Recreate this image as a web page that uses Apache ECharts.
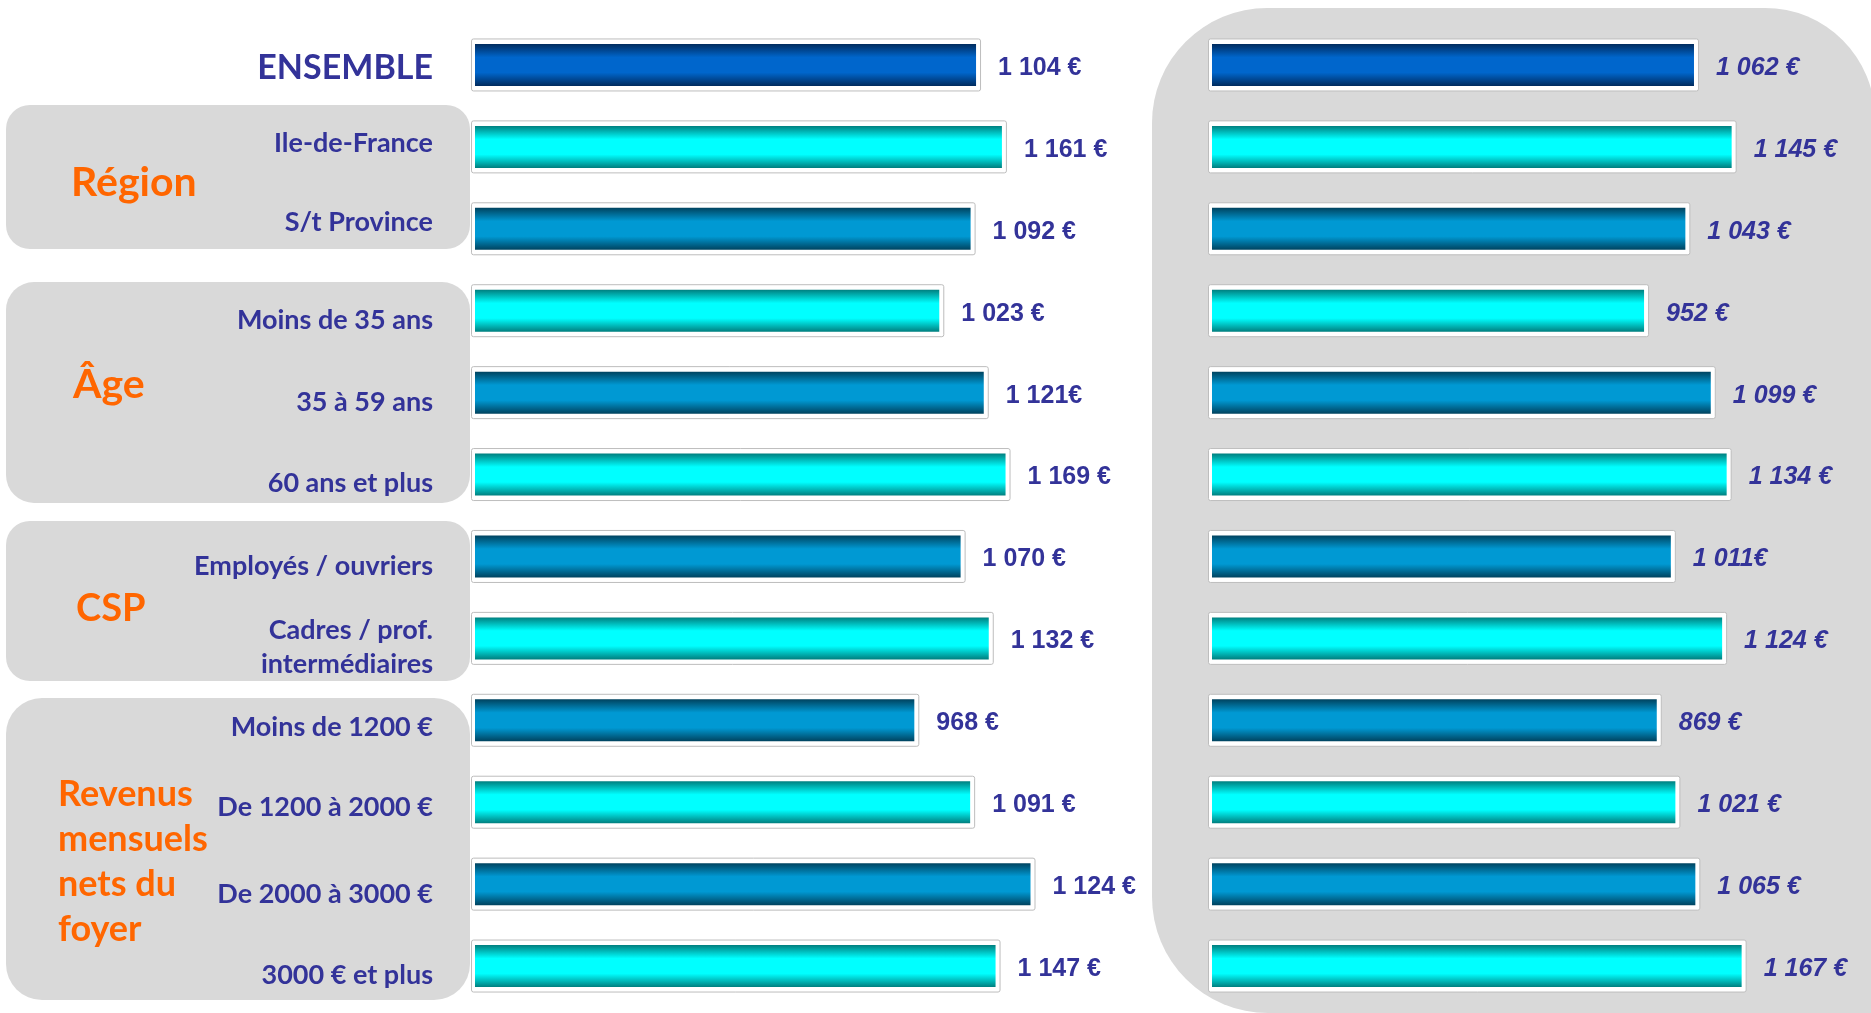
<!DOCTYPE html>
<html>
<head>
<meta charset="utf-8">
<script src="https://cdn.jsdelivr.net/npm/echarts@6/dist/echarts.min.js"></script>
<style>
  html, body { margin: 0; padding: 0; background: #fff; }
  #chart { width: 1871px; height: 1013px; }
</style>
</head>
<body>
<div id="chart"></div>
<script>
// categories (top to bottom)
var categories = ['ENSEMBLE', 'Ile-de-France', 'S/t Province', 'Moins de 35 ans', '35 à 59 ans',
  '60 ans et plus', 'Employés / ouvriers', 'Cadres / prof.\nintermédiaires', 'Moins de 1200 €',
  'De 1200 à 2000 €', 'De 2000 à 3000 €', '3000 € et plus'];

// left block : printed labels and bar lengths as drawn
// (in the picture the "1 124 €" bar is drawn longer than its label)
var leftLabels = ['1 104 €', '1 161 €', '1 092 €', '1 023 €', '1 121€', '1 169 €',
  '1 070 €', '1 132 €', '968 €', '1 091 €', '1 124 €', '1 147 €'];
var leftValues = [1104, 1161, 1092, 1023, 1121, 1169, 1070, 1132, 968, 1091, 1224, 1147];

// right block (the "869 €" bar is drawn longer than its label)
var rightLabels = ['1 062 €', '1 145 €', '1 043 €', '952 €', '1 099 €', '1 134 €',
  '1 011€', '1 124 €', '869 €', '1 021 €', '1 065 €', '1 167 €'];
var rightValues = [1062, 1145, 1043, 952, 1099, 1134, 1011, 1124, 980, 1021, 1065, 1167];

// bar colour kind per row
var barKinds = ['ensemble', 'cyan', 'blue', 'cyan', 'blue', 'cyan', 'blue', 'cyan', 'blue', 'cyan', 'blue', 'cyan'];

var chart = echarts.init(document.getElementById('chart'));

function grad(edge, mid) {
  return new echarts.graphic.LinearGradient(0, 0, 0, 1, [
    { offset: 0, color: edge },
    { offset: 0.32, color: mid },
    { offset: 0.68, color: mid },
    { offset: 1, color: edge }
  ]);
}
var kindColors = {
  ensemble: ['#002b5e', '#0066cc'],
  blue: ['#00435f', '#0099d3'],
  cyan: ['#007f7f', '#00ffff']
};

function barData(values) {
  return values.map(function (v, i) {
    var c = kindColors[barKinds[i]];
    return { value: v, itemStyle: { color: grad(c[0], c[1]) } };
  });
}

// white frame with grey border behind each bar
function frameItem(params, api) {
  var start = api.coord([0, api.value(1)]);
  var end = api.coord([api.value(0), api.value(1)]);
  return {
    type: 'rect',
    shape: { x: start[0] - 3.5, y: start[1] - 26, width: end[0] - start[0] + 8, height: 52, r: 2 },
    style: { fill: '#ffffff', stroke: '#bdbdbd', lineWidth: 1 }
  };
}

function panel(x, y, w, h, r) {
  return { type: 'rect', z: -100, shape: { x: x, y: y, width: w, height: h, r: r }, style: { fill: '#d9d9d9' } };
}
function groupText(txt, x, y, size, lh) {
  return {
    type: 'text', z: 50, x: x, y: y,
    style: { text: txt, fill: '#ff6600', font: 'bold ' + size + 'px Lato', lineHeight: lh || 45, verticalAlign: 'middle' }
  };
}

// small vertical nudge of each row name (labels are not exactly centred on bars)
var nameShift = [3, -4, -6, 10, 10, 9, 10, 9, 7, 5, 10, 9];
var yData = categories.map(function (c, i) {
  var s = nameShift[i];
  return { value: c, textStyle: { padding: s >= 0 ? [2 * s, 0, 0, 0] : [0, 0, -2 * s, 0] } };
});

var labelFont = {
  color: '#333399', fontFamily: 'Liberation Sans', fontWeight: 'bold', fontSize: 25
};

var option = {
  animation: false,
  backgroundColor: '#ffffff',
  graphic: {
    elements: [
      panel(6, 105, 464, 144, 24),
      panel(6, 282, 464, 221, 28),
      panel(6, 521, 464, 160, 24),
      panel(6, 698, 464, 302, 36),
      panel(1152, 8, 723, 1005, [115, 110, 0, 116]),
      groupText('Région', 71, 183, 41),
      groupText('Âge', 73, 385, 41),
      groupText('CSP', 76, 609, 38),
      groupText('Revenus\nmensuels\nnets du\nfoyer', 58, 862, 36)
    ]
  },
  grid: [
    { left: 475, width: 590, top: 24, bottom: 6 },
    { left: 1212, width: 590, top: 24, bottom: 6 }
  ],
  xAxis: [
    { gridIndex: 0, type: 'value', min: 0, max: 1300, show: false },
    { gridIndex: 1, type: 'value', min: 0, max: 1300, show: false }
  ],
  yAxis: [
    {
      gridIndex: 0, type: 'category', inverse: true, data: yData,
      axisLine: { show: false }, axisTick: { show: false },
      axisLabel: {
        margin: 42, align: 'right', color: '#333399', fontFamily: 'Lato', fontWeight: 'bold',
        fontSize: 27, lineHeight: 34,
        formatter: function (v, i) { return i === 0 ? '{big|' + v + '}' : v; },
        rich: { big: { fontSize: 34, fontWeight: 'bold', fontFamily: 'Lato', color: '#333399' } }
      }
    },
    {
      gridIndex: 1, type: 'category', inverse: true, data: categories,
      axisLine: { show: false }, axisTick: { show: false }, axisLabel: { show: false }
    }
  ],
  series: [
    {
      type: 'custom', xAxisIndex: 0, yAxisIndex: 0, z: 1, renderItem: frameItem,
      data: leftValues.map(function (v, i) { return [v, i]; })
    },
    {
      type: 'custom', xAxisIndex: 1, yAxisIndex: 1, z: 1, renderItem: frameItem,
      data: rightValues.map(function (v, i) { return [v, i]; })
    },
    {
      type: 'bar', xAxisIndex: 0, yAxisIndex: 0, z: 3, barWidth: 42,
      data: barData(leftValues),
      label: Object.assign({
        show: true, position: 'right', distance: 22, offset: [0, 3],
        formatter: function (p) { return leftLabels[p.dataIndex]; }
      }, labelFont)
    },
    {
      type: 'bar', xAxisIndex: 1, yAxisIndex: 1, z: 3, barWidth: 42,
      data: barData(rightValues),
      label: Object.assign({
        show: true, position: 'right', distance: 22, offset: [0, 3], fontStyle: 'italic',
        formatter: function (p) { return rightLabels[p.dataIndex]; }
      }, labelFont)
    }
  ]
};

chart.setOption(option);
</script>
</body>
</html>
